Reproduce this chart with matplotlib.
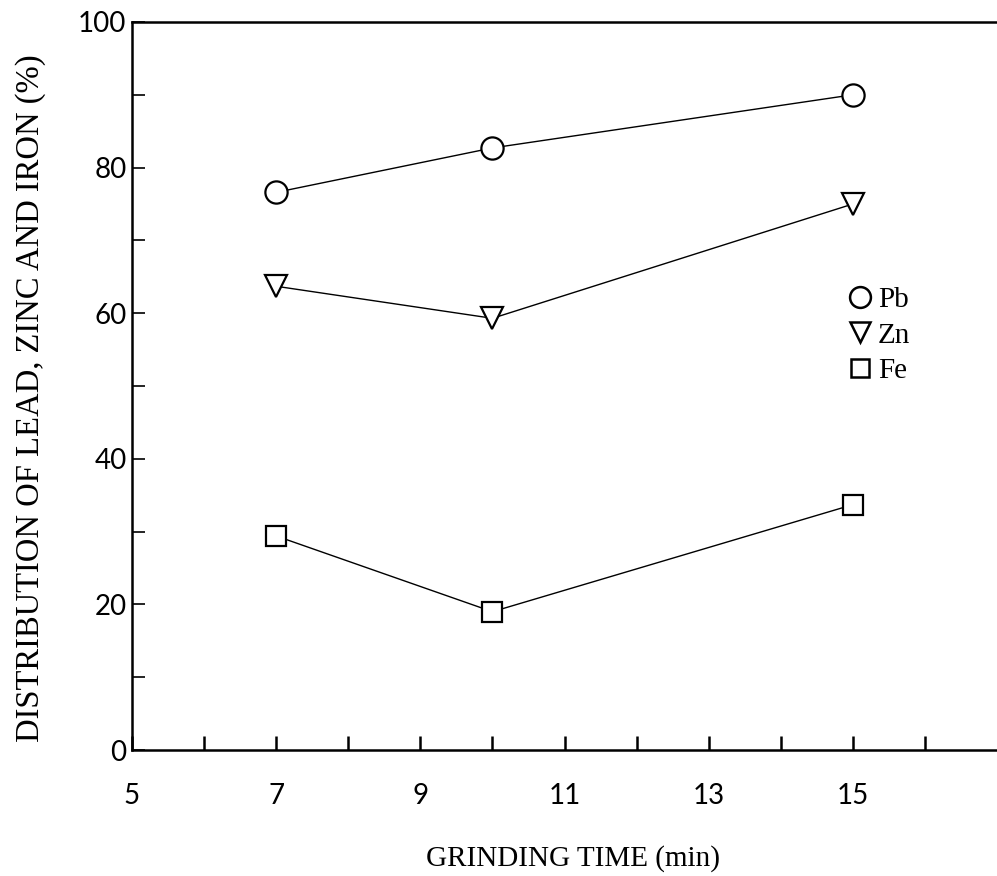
import matplotlib.pyplot as plt
from matplotlib.lines import Line2D

# grinding time (min)
times = [7, 10, 15]

# distribution (%)
pb = [76.6, 82.7, 90.0]
zn = [63.7, 59.3, 75.0]
fe = [29.4, 19.0, 33.7]

x_tick_labels = [5, 7, 9, 11, 13, 15]
y_tick_labels = [0, 20, 40, 60, 80, 100]


def plot():
    fig = plt.figure(figsize=(9.97, 8.76), dpi=100)
    ax = fig.add_axes([0.1324, 0.1438, 0.8676, 0.8311])

    style = dict(color='black', linewidth=1.0, markerfacecolor='white',
                 markeredgecolor='black', markeredgewidth=1.6, clip_on=False)
    ax.plot(times, pb, marker='o', markersize=16, **style)
    ax.plot(times, zn, marker='v', markersize=16, **style)
    ax.plot(times, fe, marker='s', markersize=14, **style)

    ax.set_xlim(5, 17)
    ax.set_ylim(0, 100)

    ax.set_xticks(list(range(6, 17)), minor=True)
    ax.set_xticks(x_tick_labels)
    ax.set_xticklabels([str(v) for v in x_tick_labels])
    ax.set_yticks(list(range(10, 100, 20)), minor=True)
    ax.set_yticks(y_tick_labels)
    ax.set_yticklabels([str(v) for v in y_tick_labels])

    ax.tick_params(axis='x', which='both', direction='in', length=10,
                   width=1.8, pad=24, labelsize=20, labelcolor='black')
    ax.tick_params(axis='y', which='both', direction='in', length=9,
                   width=1.2, pad=4, labelsize=20, labelcolor='black')
    for lab in ax.get_xticklabels() + ax.get_yticklabels():
        lab.set_fontfamily('Lato')
        lab.set_fontweight('normal')

    for side in ['left', 'bottom', 'top']:
        ax.spines[side].set_linewidth(1.8)
    ax.spines['right'].set_visible(False)

    ax.set_xlabel('GRINDING TIME (min)', fontfamily='Liberation Serif',
                  fontsize=21)
    ax.xaxis.set_label_coords(0.51, -0.13)
    ax.set_ylabel('DISTRIBUTION OF LEAD, ZINC AND IRON (%)',
                  fontfamily='Liberation Serif', fontsize=23.5)
    ax.yaxis.set_label_coords(-0.1, 0.483)

    mk = dict(color='black', linestyle='none', markerfacecolor='white',
              markeredgecolor='black', markeredgewidth=1.8)
    handles = [Line2D([], [], marker='o', markersize=15, **mk),
               Line2D([], [], marker='v', markersize=14, **mk),
               Line2D([], [], marker='s', markersize=13, **mk)]
    ax.legend(handles, ['Pb', 'Zn', 'Fe'], loc='upper left',
              bbox_to_anchor=(0.8, 0.672), frameon=False, handlelength=0.7,
              handletextpad=0.25, labelspacing=0.3,
              prop={'family': 'Liberation Serif', 'size': 21})

    fig.savefig('out.png', dpi=100)


if __name__ == '__main__':
    plot()
